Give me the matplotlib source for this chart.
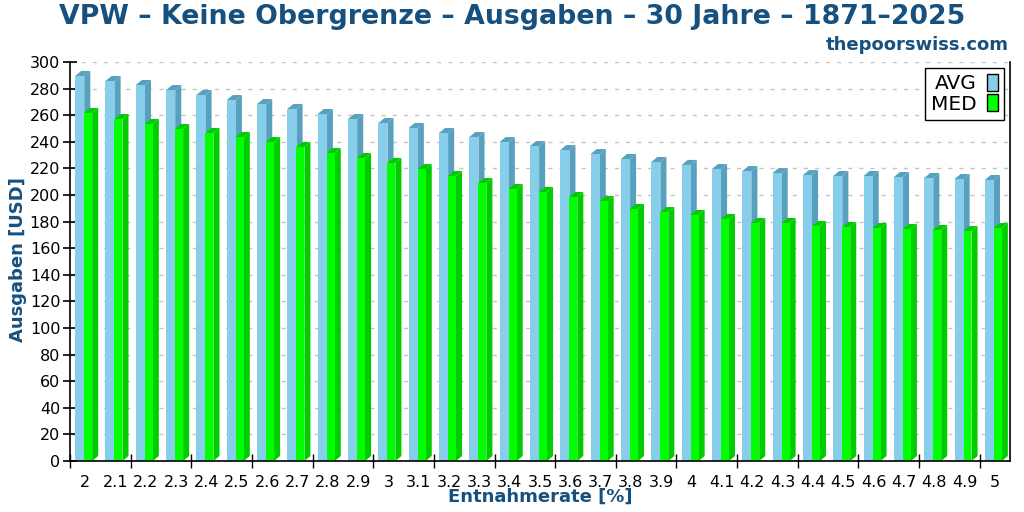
import numpy as np
import matplotlib
matplotlib.use('Agg')
import matplotlib.pyplot as plt
from matplotlib.patches import Patch

# data
rates = ['2', '2.1', '2.2', '2.3', '2.4', '2.5', '2.6', '2.7', '2.8', '2.9',
         '3', '3.1', '3.2', '3.3', '3.4', '3.5', '3.6', '3.7', '3.8', '3.9',
         '4', '4.1', '4.2', '4.3', '4.4', '4.5', '4.6', '4.7', '4.8', '4.9', '5']
avg = [289.5, 285.7, 282.7, 278.9, 275.2, 271.4, 268.4, 264.7, 260.9, 257.1,
       254.1, 250.4, 246.6, 243.6, 239.8, 236.8, 233.8, 230.8, 227.1, 224.8,
       222.6, 219.5, 218.0, 216.5, 215.0, 214.3, 214.3, 213.5, 212.8, 212.0, 211.3]
med = [261.7, 257.1, 253.4, 249.6, 246.6, 243.6, 239.8, 236.1, 231.6, 227.8,
       224.1, 219.5, 214.3, 209.0, 204.5, 202.3, 198.5, 195.5, 189.5, 187.2,
       185.0, 182.0, 179.0, 179.0, 176.7, 175.9, 175.2, 174.4, 173.7, 172.9, 175.2]

blue = '#15507f'
avg_front, avg_dark = '#87ceeb', '#58a0bd'
med_front, med_dark = '#00ff00', '#00cc00'

x = np.arange(len(rates))
dx = 0.2    # 3d depth in x (data units)
dy = 3.76   # 3d depth in y

fig = plt.figure(figsize=(10.24, 5.12), dpi=100)
ax = fig.add_axes([70/1024, 1-461/512, 940/1024, 399/512])


def bar3d(left, width, h, front, dark):
    r = left + width
    ax.fill([r, r+dx, r+dx, r], [0, dy, h+dy, h], color=dark, lw=0, zorder=2)
    ax.fill([left, r, r+dx, left+dx], [h, h, h+dy, h+dy], color=dark, lw=0, zorder=2)
    ax.bar(left, h, width=width, align='edge', color=front, lw=0, zorder=2)


for i in range(len(x)):
    bar3d(x[i]-0.33, 0.30, avg[i], avg_front, avg_dark)
    bar3d(x[i]-0.033, 0.263, med[i], med_front, med_dark)

ax.set_xlim(-0.5, 30.5)
ax.set_ylim(0, 300)
ax.set_yticks(np.arange(0, 301, 20))
ax.set_xticks(x)
ax.set_xticklabels(rates)
ax.set_xticks(np.arange(-0.5, 30, 2), minor=True)
ax.tick_params(axis='x', which='major', length=0, pad=10, labelsize=11.5)
ax.tick_params(axis='x', which='minor', length=10, direction='inout', width=1)
ax.tick_params(axis='y', length=10, direction='inout', width=1.2, labelsize=11.5, pad=2)
ax.spines['top'].set_visible(False)
ax.spines['left'].set_linewidth(1.2)
ax.spines['right'].set_linewidth(1.2)
ax.spines['bottom'].set_linewidth(1.2)
ax.yaxis.grid(True, color='#c4c4c4', linestyle=(0, (3, 5)), linewidth=1)
ax.set_axisbelow(True)

handles = [Patch(facecolor=avg_front, edgecolor='black', label='AVG'),
           Patch(facecolor=med_front, edgecolor='black', label='MED')]
leg = ax.legend(handles=handles, loc='upper right', fontsize=14.5, markerfirst=False,
                handlelength=0.55, handleheight=0.9, handletextpad=0.5,
                labelspacing=0.05, borderpad=0.3, borderaxespad=0.3,
                fancybox=False, framealpha=1, edgecolor='black')
leg.get_frame().set_linewidth(1)

fig.text(0.5, 1-17/512, 'VPW – Keine Obergrenze – Ausgaben – 30 Jahre – 1871–2025',
         ha='center', va='center', fontsize=19.3, fontweight='bold', color=blue)
fig.text(1009/1024, 1-45/512, 'thepoorswiss.com', ha='right', va='center',
         fontsize=13, fontweight='bold', color=blue)
fig.text(18/1024, 1-260/512, 'Ausgaben [USD]', rotation=90, ha='center', va='center',
         fontsize=13, fontweight='bold', color=blue)
fig.text(540/1024, 1-497/512, 'Entnahmerate [%]', ha='center', va='center',
         fontsize=13, fontweight='bold', color=blue)

fig.savefig('out.png', dpi=100)
